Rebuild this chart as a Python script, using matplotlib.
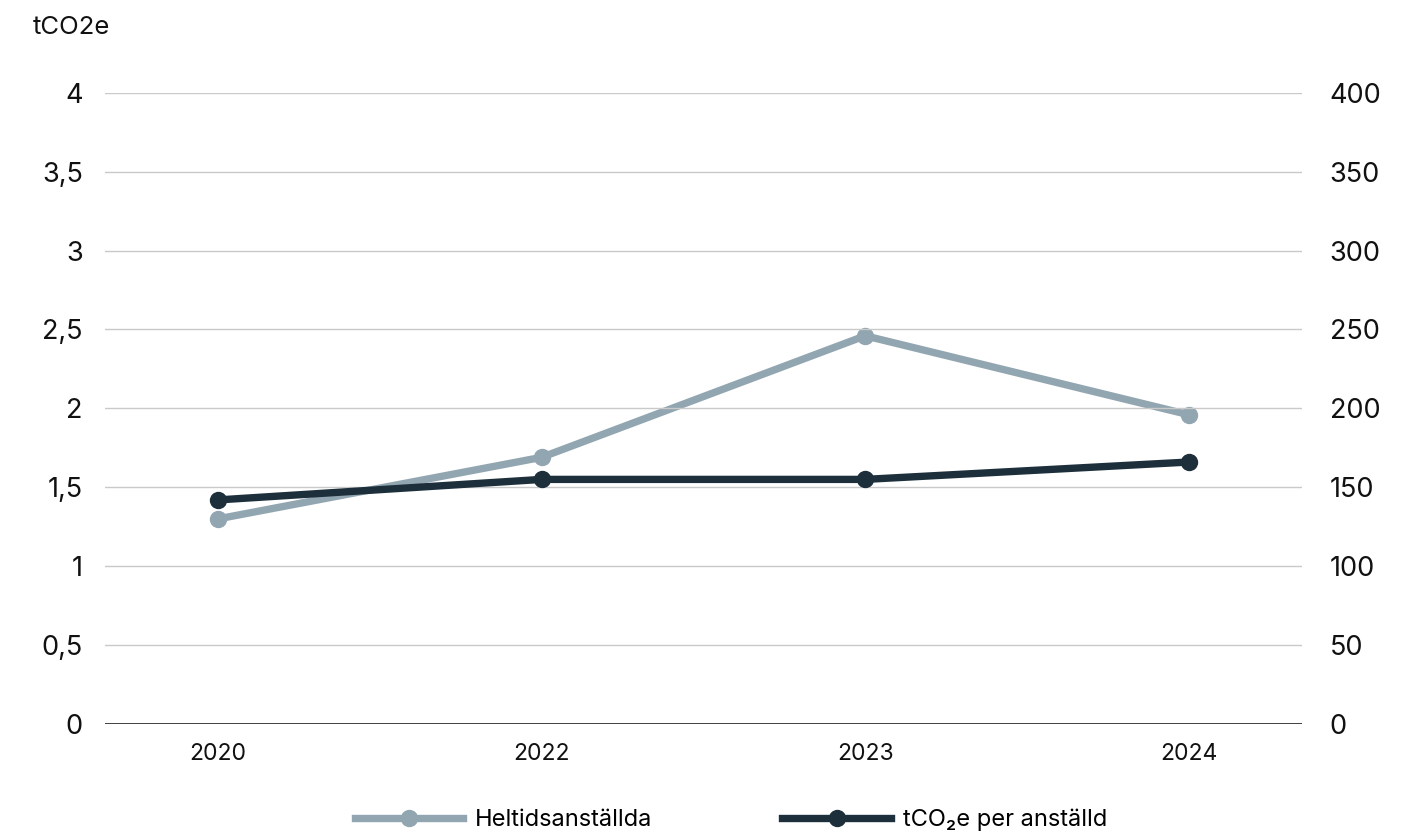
import numpy as np
import matplotlib as mpl
import matplotlib.pyplot as plt

mpl.rcParams['font.family'] = ['Inter', 'DejaVu Sans']

years = ['2020', '2022', '2023', '2024']
heltid = [130, 169, 246, 196]          # right axis
per_anst = [1.42, 1.55, 1.55, 1.66]    # left axis, tCO2e

light = '#92a6b1'
dark = '#1d2f3b'

fig = plt.figure(figsize=(14.08, 8.36), dpi=100)
ax = fig.add_axes([0.0746, 0.134, 0.85, 0.755])
ax2 = ax.twinx()

x = np.arange(len(years))

ax2.plot(x, heltid, color=light, lw=5.3, marker='o', markersize=11.5, label='Heltidsanställda', zorder=3)
ax.plot(x, per_anst, color=dark, lw=5.3, marker='o', markersize=11.5, label='tCO₂e per anställd', zorder=4)
ax.set_zorder(ax2.get_zorder() + 1)
ax.patch.set_visible(False)

ax.set_xlim(-0.35, 3.35)
ax.set_ylim(0, 4)
ax2.set_ylim(0, 400)
ax.set_yticks(np.arange(0, 4.01, 0.5))
ax.set_yticklabels(['0', '0,5', '1', '1,5', '2', '2,5', '3', '3,5', '4'])
ax2.set_yticks(np.arange(0, 401, 50))
ax.set_xticks(x)
ax.set_xticklabels(years)

for a in (ax, ax2):
    for s in a.spines.values():
        s.set_visible(False)
ax.grid(axis='y', color='#c9c9c9', lw=1)
ax.axhline(0, color='#333333', lw=1.3, zorder=2)
ax.tick_params(axis='y', length=0, pad=16, labelsize=19.5, colors='#111111')
ax2.tick_params(axis='y', length=0, pad=20, labelsize=19.5, colors='#111111')
ax.tick_params(axis='x', length=0, pad=14, labelsize=16.5, colors='#111111')

fig.text(0.023, 0.967, 'tCO2e', fontsize=18.5, color='#111111', va='center')
fig.text(0.912, -0.012, '35', fontsize=14, color='#111111', va='center')

h1, l1 = ax2.get_legend_handles_labels()
h2, l2 = ax.get_legend_handles_labels()
fig.legend(h1 + h2, l1 + l2, loc='center', bbox_to_anchor=(0.519, 0.019), ncol=2,
           frameon=False, fontsize=17, handlelength=4.6, columnspacing=5.5, handletextpad=0.5)

fig.savefig('out.png', dpi=100)
